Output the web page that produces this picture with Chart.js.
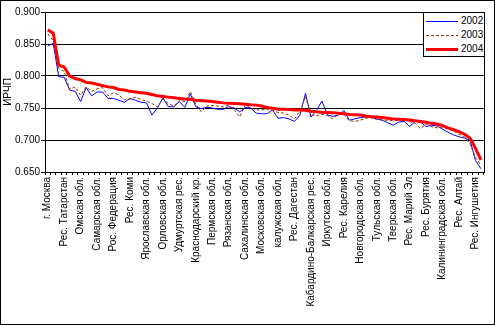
<!DOCTYPE html>
<html>
<head>
<meta charset="utf-8">
<script src="https://cdn.jsdelivr.net/npm/chart.js@4.4.1/dist/chart.umd.min.js"></script>
<style>
  html, body { margin: 0; padding: 0; background: #fff; }
  #wrap { width: 495px; height: 325px; position: relative; }
  #legendBox {
    position: absolute; box-sizing: border-box; background: #fff;
    border: 1px solid #000; font: 10px "Liberation Sans", Arial, sans-serif; color: #000;
  }
  #legendBox .row { position: absolute; left: 2px; height: 12px; display: flex; align-items: center; }
  #legendBox .sample { width: 32px; }
  #legendBox .txt { margin-left: 3px; line-height: 12px; }
</style>
</head>
<body>
<div id="wrap">
  <canvas id="hdiChart" width="495" height="325"></canvas>
  <div id="legendBox"></div>
</div>
<script>
// regions ranked by 2004 value, every third one gets a label
var regions = [
  'г. Москва', 'Тюменская обл.', 'г. Санкт-Петербург', 'Рес. Татарстан', 'Томская обл.',
  'Липецкая обл.', 'Омская обл.', 'Красноярский кр.', 'Белгородская обл.', 'Самарская обл.',
  'Вологодская обл.', 'Рес. Башкортостан', 'Рос. Федерация', 'Свердловская обл.', 'Мурманская обл.',
  'Рес. Коми', 'Челябинская обл.', 'Магаданская обл.', 'Ярославская обл.', 'Хабаровский кр.',
  'Нижегородская обл.', 'Орловская обл.', 'Оренбургская обл.', 'Камчатская обл.', 'Удмуртская рес.',
  'Рес. Саха (Якутия)', 'Новосибирская обл.', 'Краснодарский кр.', 'Воронежская обл.', 'Архангельская обл.',
  'Пермская обл.', 'Кемеровская обл.', 'Ленинградская обл.', 'Рязанская обл.', 'Саратовская обл.',
  'Курская обл.', 'Сахалинская обл.', 'Волгоградская обл.', 'Астраханская обл.', 'Московская обл.',
  'Тамбовская обл.', 'Ростовская обл.', 'калужская обл.', 'Ульяновская обл.', 'Приморский кр.',
  'Рес. Дагестан', 'Рес. Хакасия', 'Чувашская рес.', 'Кабардино-Балкарская рес.', 'Ставропольский кр.',
  'Рес. Северная Осетия', 'Иркутская обл.', 'Смоленская обл.', 'Брянская обл.', 'Рес. Карелия',
  'Пензенская обл.', 'Рес. Мордовия', 'Новгородская обл.', 'Костромская обл.', 'Кировская обл.',
  'Тульская обл.', 'Курганская обл.', 'Рес. Адыгея', 'Тверская обл.', 'Владимирская обл.',
  'Алтайский кр.', 'Рес. Марий Эл', 'Амурская обл.', 'Ивановская обл.', 'Рес. Бурятия',
  'Псковская обл.', 'Карачаево-Черкесская рес.', 'Калининградская обл.', 'Рес. Калмыкия', 'Читинская обл.',
  'Рес. Алтай', 'Еврейская авт. обл.', 'Коми-Пермяцкий АО', 'Рес. Ингушетия', 'Рес. Тыва'
];

var hdi2002 = [
  0.847, 0.851, 0.799, 0.798, 0.778, 0.776, 0.760, 0.782, 0.769, 0.775,
  0.775, 0.765, 0.765, 0.762, 0.759, 0.765, 0.762, 0.759, 0.758, 0.739,
  0.750, 0.766, 0.752, 0.752, 0.760, 0.751, 0.772, 0.752, 0.749, 0.751,
  0.750, 0.748, 0.748, 0.752, 0.750, 0.744, 0.751, 0.750, 0.742, 0.741,
  0.741, 0.747, 0.734, 0.735, 0.733, 0.729, 0.739, 0.773, 0.736, 0.746,
  0.761, 0.739, 0.737, 0.739, 0.746, 0.731, 0.733, 0.735, 0.736, 0.735,
  0.733, 0.731, 0.727, 0.723, 0.728, 0.729, 0.721, 0.729, 0.728, 0.721,
  0.723, 0.722, 0.717, 0.712, 0.708, 0.705, 0.703, 0.700, 0.668, 0.655
];

var hdi2003 = [
  0.866, 0.855, 0.812, 0.807, 0.779, 0.783, 0.770, 0.783, 0.776, 0.780,
  0.782, 0.769, 0.774, 0.770, 0.763, 0.764, 0.767, 0.763, 0.761, 0.757,
  0.752, 0.764, 0.757, 0.753, 0.762, 0.760, 0.776, 0.756, 0.744, 0.753,
  0.754, 0.753, 0.752, 0.754, 0.748, 0.736, 0.755, 0.750, 0.747, 0.747,
  0.748, 0.746, 0.743, 0.742, 0.739, 0.733, 0.745, 0.768, 0.739, 0.738,
  0.740, 0.738, 0.733, 0.740, 0.740, 0.730, 0.729, 0.731, 0.734, 0.735,
  0.732, 0.731, 0.731, 0.730, 0.731, 0.731, 0.729, 0.726, 0.718, 0.725,
  0.721, 0.719, 0.720, 0.717, 0.714, 0.709, 0.705, 0.694, 0.673, 0.660
];

var hdi2004 = [
  0.872, 0.867, 0.817, 0.814, 0.800, 0.796, 0.794, 0.790, 0.789, 0.787,
  0.785, 0.783, 0.782, 0.779, 0.778, 0.776, 0.775, 0.774, 0.773, 0.771,
  0.769, 0.768, 0.767, 0.766, 0.765, 0.764, 0.7635, 0.762, 0.7615, 0.761,
  0.760, 0.759, 0.758, 0.7575, 0.757, 0.7565, 0.756, 0.755, 0.7545, 0.753,
  0.751, 0.7495, 0.748, 0.748, 0.7477, 0.747, 0.7468, 0.7465, 0.745, 0.744,
  0.7435, 0.743, 0.7425, 0.742, 0.741, 0.740, 0.7395, 0.739, 0.7375, 0.7365,
  0.736, 0.735, 0.734, 0.733, 0.7325, 0.732, 0.7313, 0.730, 0.729, 0.7276,
  0.726, 0.725, 0.7224, 0.719, 0.716, 0.713, 0.709, 0.703, 0.687, 0.669
];

var years = ['2002', '2003', '2004'];
var yMin = 0.65, yMax = 0.9, yStep = 0.05;
var yTitle = 'ИРЧП';
var FONT = '"Liberation Sans", Arial, sans-serif';

// line looks, one per year
var lineColors = ['#0000ff', '#993300', '#ff0000'];
var lineWidths = [1, 1, 3];
var lineDashes = [[], [3, 2], []];

// outer chart border + plot area border
var frame = {
  id: 'frame',
  afterDraw: function (chart) {
    var ctx = chart.ctx, a = chart.chartArea;
    ctx.save();
    ctx.strokeStyle = '#000';
    ctx.lineWidth = 1;
    ctx.strokeRect(Math.round(a.left) + 0.5, Math.round(a.top) + 0.5,
      Math.round(a.right - a.left), Math.round(a.bottom - a.top));
    ctx.strokeRect(0.5, 0.5, chart.width - 1, chart.height - 1);
    ctx.restore();
  }
};

var series = [hdi2002, hdi2003, hdi2004];

var chart = new Chart(document.getElementById('hdiChart'), {
  type: 'line',
  data: {
    labels: regions,
    datasets: series.map(function (vals, i) {
      return {
        label: years[i],
        data: vals,
        borderColor: lineColors[i],
        borderWidth: lineWidths[i],
        borderDash: lineDashes[i],
        order: 3 - i
      };
    })
  },
  options: {
    responsive: false,
    animation: false,
    devicePixelRatio: 1,
    layout: { padding: { left: 0, top: 12, right: 6, bottom: 0 } },
    elements: {
      point: { radius: 0, hoverRadius: 0 },
      line: { tension: 0, fill: false, borderCapStyle: 'butt', borderJoinStyle: 'miter' }
    },
    plugins: {
      legend: { display: false },
      tooltip: { enabled: false }
    },
    scales: {
      x: {
        offset: true,
        grid: { display: true, drawOnChartArea: false, color: '#000', tickLength: 3, offset: true },
        border: { color: '#000' },
        ticks: {
          autoSkip: false,
          minRotation: 90,
          maxRotation: 90,
          padding: 2,
          color: '#000',
          font: { family: FONT, size: 10 },
          callback: function (v, i) { return i % 3 === 0 ? this.getLabelForValue(v) : ''; }
        },
        afterFit: function (s) { s.height = 153; }
      },
      y: {
        min: yMin,
        max: yMax,
        grid: { color: '#000', tickLength: 4 },
        border: { color: '#000' },
        ticks: {
          stepSize: yStep,
          padding: 1,
          color: '#000',
          font: { family: FONT, size: 10 },
          callback: function (v) { return v.toFixed(3); }
        },
        title: { display: true, text: yTitle, color: '#000', font: { family: FONT, size: 10 }, padding: 2 },
        afterFit: function (s) { s.width = 45; }
      }
    }
  },
  plugins: [frame]
});

// legend box, html, pinned to the top right corner of the plot
var box = document.getElementById('legendBox');
var area = chart.chartArea;
box.style.left = (Math.round(area.right) - 61) + 'px';
box.style.top = Math.round(area.top) + 'px';
box.style.width = '62px';
box.style.height = '45px';
years.forEach(function (yr, i) {
  var row = document.createElement('div');
  row.className = 'row';
  row.style.top = (2 + i * 14) + 'px';
  var s = document.createElement('span');
  s.className = 'sample';
  s.style.height = lineWidths[i] + 'px';
  if (lineDashes[i].length) {
    s.style.background = 'repeating-linear-gradient(to right, ' + lineColors[i] + ' 0 3px, transparent 3px 5px)';
  } else {
    s.style.background = lineColors[i];
  }
  var t = document.createElement('span');
  t.className = 'txt';
  t.textContent = yr;
  row.appendChild(s);
  row.appendChild(t);
  box.appendChild(row);
});
</script>
</body>
</html>
